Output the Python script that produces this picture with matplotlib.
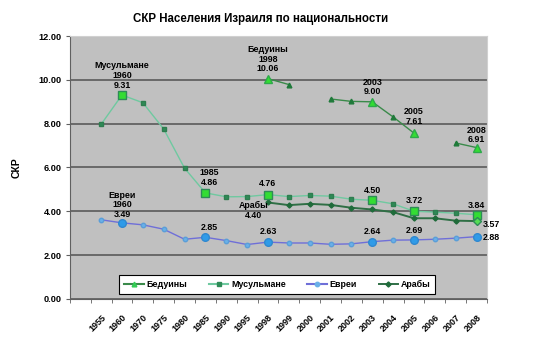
import numpy as np
import matplotlib
matplotlib.use("Agg")
import matplotlib.pyplot as plt
from matplotlib.lines import Line2D

plt.rcParams['font.family'] = ['Liberation Sans', 'DejaVu Sans']
plt.rcParams['font.weight'] = 'bold'

nan = np.nan
years = ["", "1955", "1960", "1970", "1975", "1980", "1985", "1990", "1995", "1998",
         "1999", "2000", "2001", "2002", "2003", "2004", "2005", "2006", "2007", "2008"]

bedouins = [nan, nan, nan, nan, nan, nan, nan, nan, nan, 10.06,
            9.79, nan, 9.13, 9.02, 9.00, 8.31, 7.57, nan, 7.12, 6.91]
muslims = [nan, 7.97, 9.31, 8.96, 7.76, 5.97, 4.84, 4.66, 4.67, 4.76,
           4.67, 4.72, 4.69, 4.55, 4.50, 4.34, 4.00, 3.96, 3.91, 3.84]
jews = [nan, 3.61, 3.47, 3.38, 3.18, 2.72, 2.81, 2.66, 2.48, 2.59,
        2.55, 2.55, 2.49, 2.51, 2.61, 2.68, 2.69, 2.72, 2.77, 2.84]
arabs = [nan, nan, nan, nan, nan, nan, nan, nan, nan, 4.40,
         4.28, 4.34, 4.29, 4.16, 4.08, 3.96, 3.68, 3.68, 3.57, 3.55]

# highlighted (labelled) points per series
bed_hi = [9, 14, 16, 19]
mus_hi = [2, 6, 9, 14, 16, 19]
jew_hi = [2, 6, 9, 14, 16, 19]
arab_hi = [19]

x = np.arange(len(years))

fig = plt.figure(figsize=(5.54, 3.38), dpi=100)
ax = fig.add_axes([0.126, 0.116, 0.753, 0.777])
ax.set_facecolor('#c0c0c0')

ax.plot(x, muslims, color='#6fc9a0', lw=1, marker='s', ms=3.2,
        mfc='#2e8b57', mec='#2e7d4f', zorder=3)
ax.plot(x, arabs, color='#2f6f45', lw=1.4, marker='D', ms=2.6,
        mfc='#1f6b3a', mec='#1f6b3a', zorder=4)
ax.plot(x, bedouins, color='#3a8a4a', lw=1, marker='^', ms=3.4,
        mfc='#1f7a3a', mec='#1f7a3a', zorder=3)
ax.plot(x, jews, color='#6f6fd8', lw=1, marker='o', ms=3.2,
        mfc='#6ab0e8', mec='#5a9ed8', zorder=3)

m = np.array(muslims)
ax.plot(x[mus_hi], m[mus_hi], ls='none', marker='s', ms=5.5,
        mfc='#33dd33', mec='#2e8b57', mew=1, zorder=5)
b = np.array(bedouins)
ax.plot(x[bed_hi], b[bed_hi], ls='none', marker='^', ms=5.5,
        mfc='#33dd33', mec='#2eaa4a', zorder=5)
j = np.array(jews)
ax.plot(x[jew_hi], j[jew_hi], ls='none', marker='o', ms=5.5,
        mfc='#2f9be8', mec='#2f88d0', zorder=5)
a = np.array(arabs)
ax.plot(x[arab_hi], a[arab_hi], ls='none', marker='D', ms=4,
        mfc='#55dd55', mec='#2e8b57', zorder=5)

fs = 6.4
def note(i, y, txt, ha='center', va='bottom'):
    ax.text(i, y, txt, ha=ha, va=va, fontsize=fs, fontweight='bold',
            linespacing=1.1, zorder=6)

note(2, 9.55, "Мусульмане\n1960\n9.31")
note(9, 10.3, "Бедуины\n1998\n10.06")
note(14, 9.25, "2003\n9.00")
note(16, 7.9, "2005\n7.61")
note(19, 7.05, "2008\n6.91")
note(6.2, 5.1, "1985\n4.86")
note(9, 5.05, "4.76")
note(2, 3.65, "Евреи\n1960\n3.49")
note(8.3, 4.45, "Арабы\n4.40", va='top')
note(6.2, 3.05, "2.85")
note(9, 2.85, "2.63")
note(14, 4.72, "4.50")
note(16, 4.28, "3.72")
note(19, 4.05, "3.84")
note(19.3, 3.2, "3.57", ha='left')
note(14, 2.85, "2.64")
note(16, 2.9, "2.69")
note(19.3, 2.6, "2.88", ha='left')

ax.set_xlim(-0.5, len(years) - 0.5)
ax.set_ylim(0, 12)
ax.set_yticks(np.arange(0, 12.1, 2))
ax.set_yticklabels([f"{v:.2f}" for v in np.arange(0, 12.1, 2)], fontsize=6.6)
ax.set_xticks(x)
ax.set_xticklabels(years, rotation=45, ha='right', rotation_mode='anchor', fontsize=6.5)
ax.set_xticks(np.arange(-0.5, len(years)), minor=True)
ax.tick_params(axis='x', which='major', length=0, pad=10)
ax.tick_params(axis='x', which='minor', length=3, color='#606060')
ax.tick_params(axis='y', length=3, color='#606060', pad=3)
ax.yaxis.grid(True, color='#5a5a5a', lw=1.2)
ax.set_axisbelow(True)
for s in ['top', 'right']:
    ax.spines[s].set_color('#d0d0d0')
for s in ['left', 'bottom']:
    ax.spines[s].set_color('#606060')

ax.set_ylabel("СКР", fontsize=7.5, fontweight='bold', labelpad=12)

handles = [
    Line2D([], [], color='#3a8a4a', marker='^', ms=3.4, mfc='#33cc55', mec='#33cc55'),
    Line2D([], [], color='#6fc9a0', marker='s', ms=3.2, mfc='#2e8b57', mec='#2e8b57'),
    Line2D([], [], color='#6f6fd8', marker='o', ms=3.2, mfc='#6ab0e8', mec='#6ab0e8'),
    Line2D([], [], color='#2f6f45', lw=1.4, marker='D', ms=2.6, mfc='#1f6b3a', mec='#1f6b3a'),
]
leg = ax.legend(handles, ["Бедуины", "Мусульмане", "Евреи", "Арабы"], ncol=4,
                loc='lower left', bbox_to_anchor=(0.108, 0.0, 0.779, 0.103),
                mode='expand', fontsize=6.4, frameon=True, fancybox=False,
                handlelength=2.2, handletextpad=0.3, borderpad=0.55)
leg.get_frame().set_edgecolor('black')
leg.get_frame().set_linewidth(0.8)
leg.get_frame().set_facecolor('white')
leg.get_frame().set_alpha(1)

fig.text(0.471, 0.925, "СКР Населения Израиля по национальности", ha='center',
         va='bottom', fontsize=8.3, fontweight='bold')

fig.savefig("out.png", dpi=100)
